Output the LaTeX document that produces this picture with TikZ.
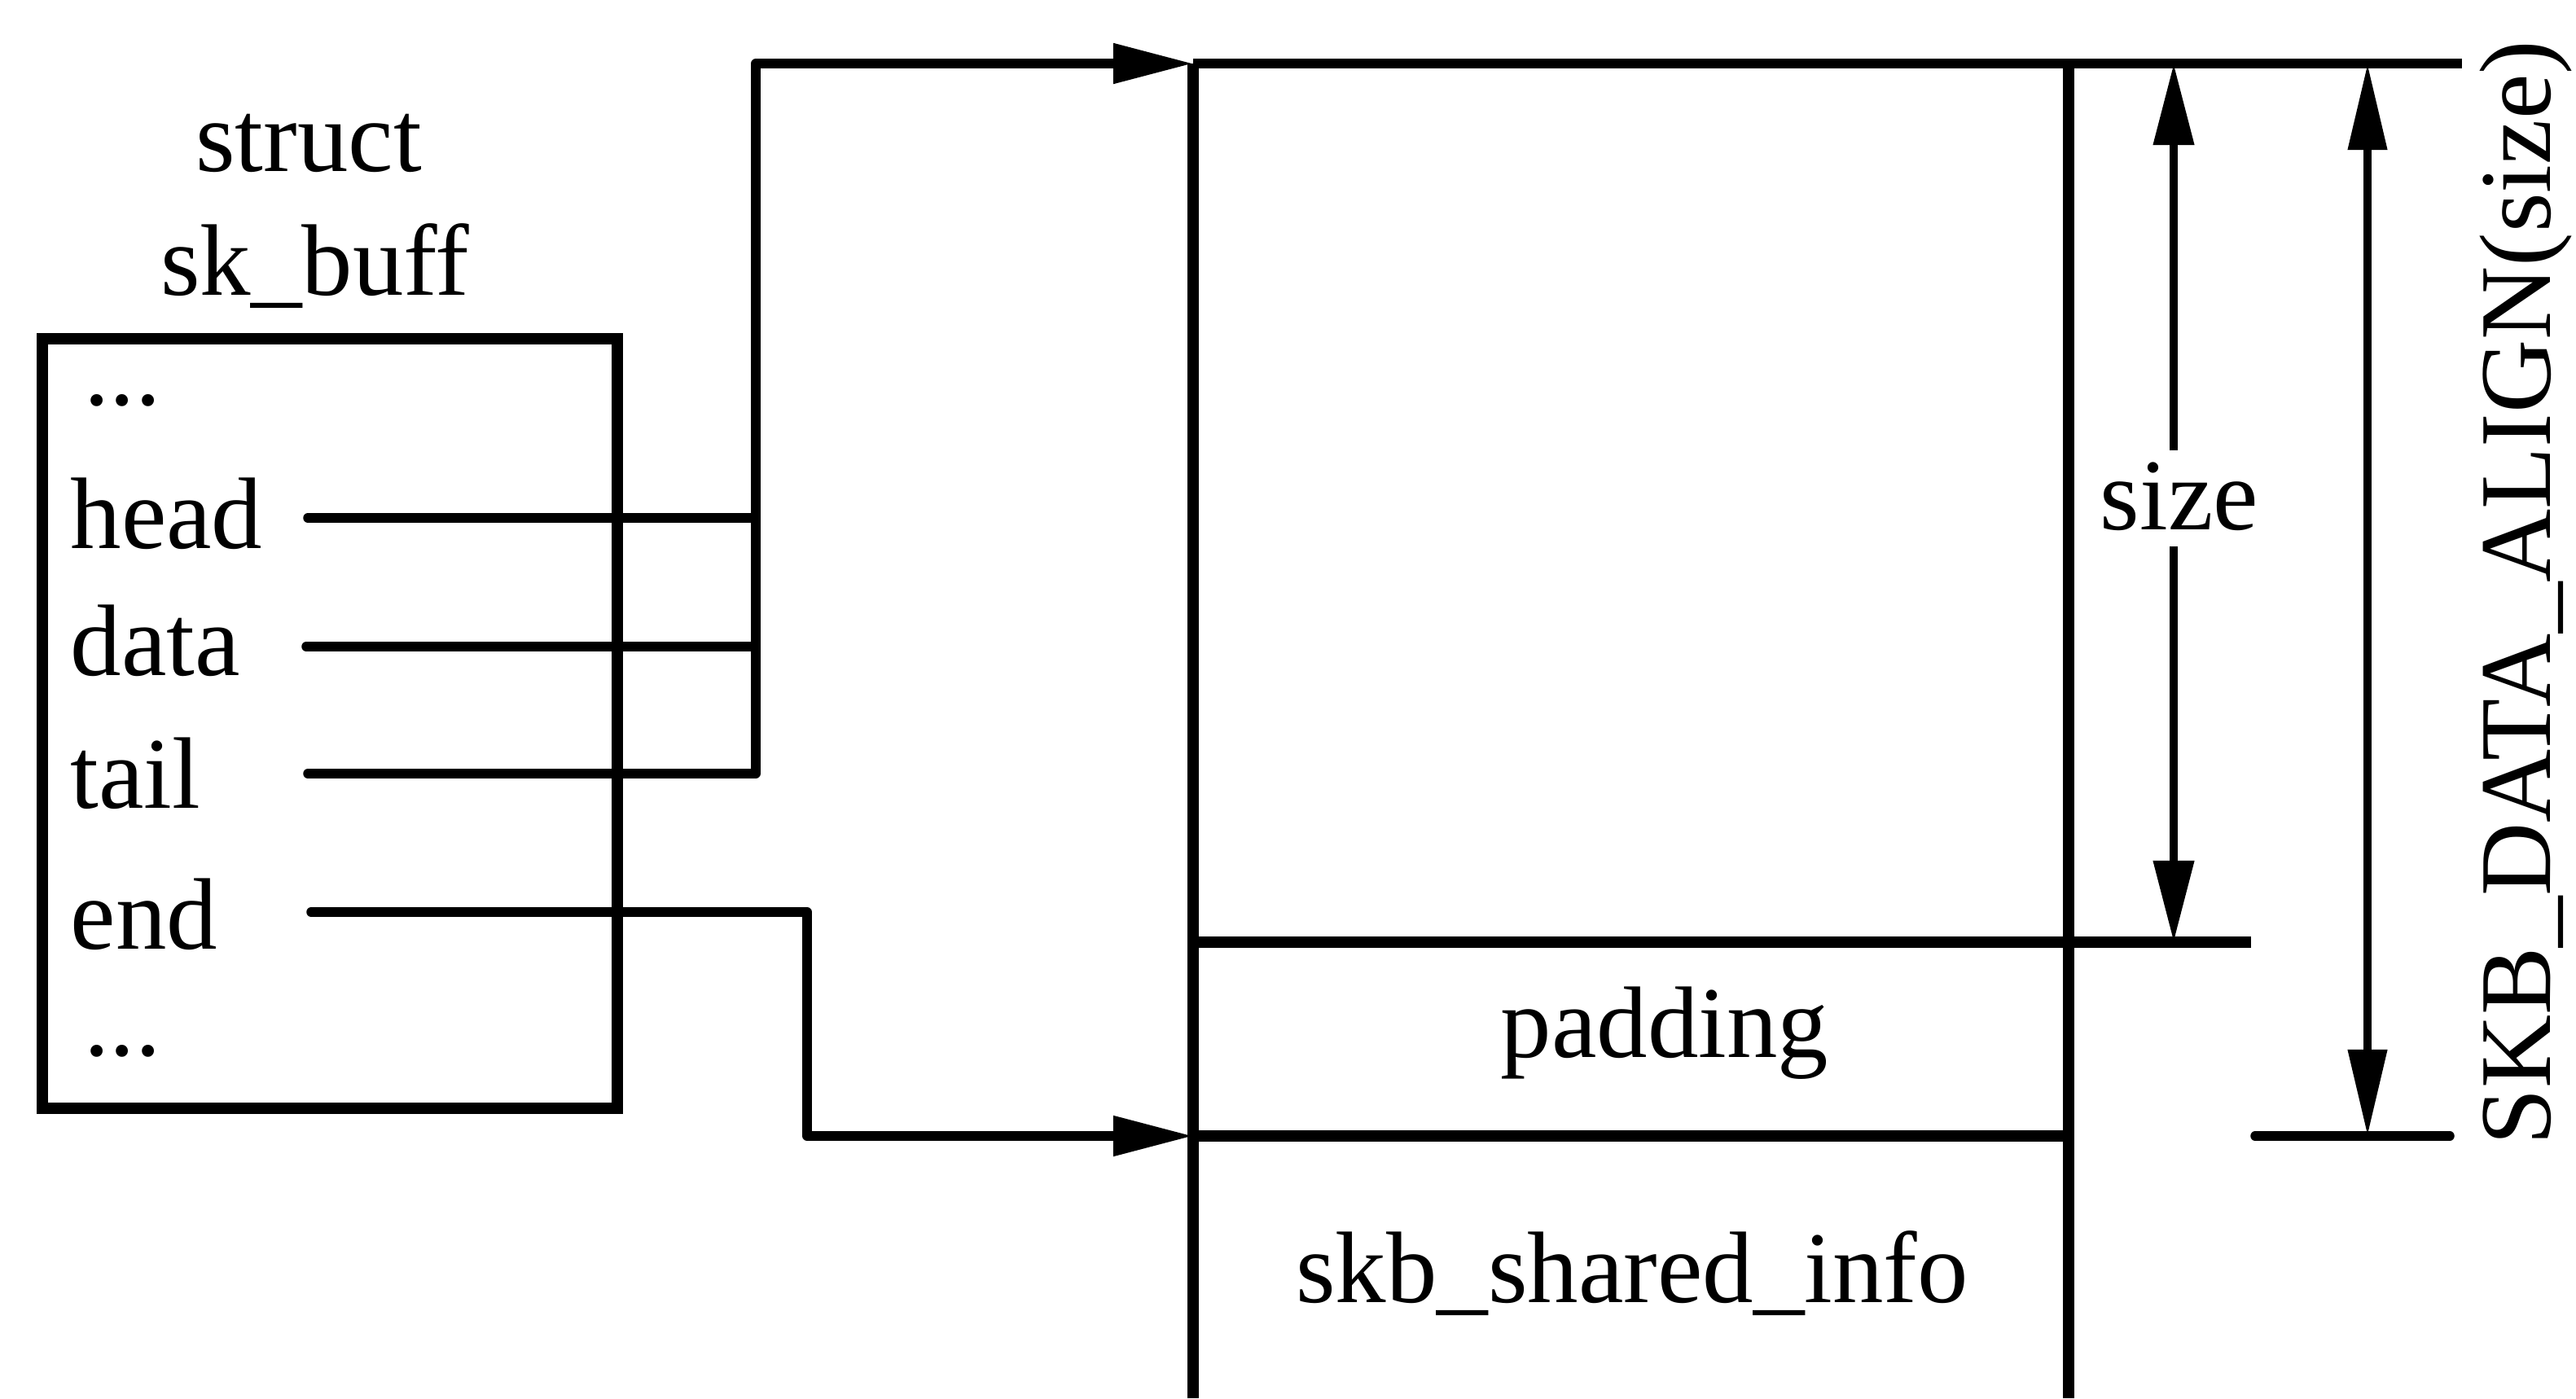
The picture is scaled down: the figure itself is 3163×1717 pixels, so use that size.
\documentclass[tikz,border=0pt]{standalone}
\usepackage{fontspec}
\setmainfont{Liberation Serif}
\usetikzlibrary{arrows.meta}
\begin{document}
\begin{tikzpicture}[x=0.01cm,y=-0.01cm,
  thickline/.style={line width=0.14cm},
  conn/.style={line width=0.115cm, line cap=round, line join=round},
  dimline/.style={line width=0.105cm},
  tipend/.style={-{Triangle[length=0.98cm,width=0.47cm]}},
  lbl/.style={font=\fontsize{35.5}{42}\selectfont, inner sep=0pt},
]
\useasboundingbox (0,0) rectangle (3163,1717);

% struct sk_buff box
\node[draw, thickline, minimum width=7.06cm, minimum height=9.45cm, outer sep=0pt, inner sep=0pt] (skb) at (405,888.5) {};
\node[lbl, anchor=base] (structlbl) at (379,210) {struct};
\node[lbl, anchor=base] (skbname) at (387,362) {sk\_buff};
\node[lbl, anchor=base west] (dotsa) at (103,497) {...};
\node[lbl, anchor=base west] (head) at (86,673) {head};
\node[lbl, anchor=base west] (data) at (86,829) {data};
\node[lbl, anchor=base west] (tail) at (86,992) {tail};
\node[lbl, anchor=base west] (end) at (86,1165) {end};
\node[lbl, anchor=base west] (dotsb) at (103,1296) {...};

% coordinates
\coordinate (hs) at (378,636);
\coordinate (ds) at (376,794);
\coordinate (ts) at (378,950);
\coordinate (es) at (382,1120);
\coordinate (hj) at (928,636);
\coordinate (dj) at (928,794);
\coordinate (tj) at (928,950);
\coordinate (vtop) at (928,78);
\coordinate (ebend) at (991,1120);
\coordinate (ebend2) at (991,1395);

\coordinate (bufTL) at (1465,78);
\coordinate (bufBL) at (1465,1717);
\coordinate (bufTR) at (2540,78);
\coordinate (bufBR) at (2540,1717);
\coordinate (topend) at (3023,78);
\coordinate (sizeL) at (1465,1157);
\coordinate (sizeR) at (2764,1157);
\coordinate (padL) at (1465,1395);
\coordinate (padR) at (2540,1395);
\coordinate (tickL) at (2769,1395);
\coordinate (tickR) at (3008,1395);

% connectors
\draw[conn] (hs) -- (hj);
\draw[conn] (ds) -- (dj);
\draw[conn, tipend] (ts) -- (tj) -- (vtop) -- (bufTL);
\draw[conn, tipend] (es) -- (ebend) -- (ebend2) -- (padL);

% buffer
\draw[thickline] (bufBL) -- (bufTL);
\draw[line width=0.125cm] (bufTL) -- (topend);
\draw[thickline] (bufTR) -- (bufBR);
\draw[thickline] (sizeL) -- (sizeR);
\draw[thickline] (padL) -- (padR);
\draw[conn] (tickL) -- (tickR);

\node[lbl, anchor=base] (padding) at (2044,1298) {padding};
\node[lbl, anchor=base] (shinfo) at (2004,1599) {skb\_shared\_info};

% size dimension
\node[lbl, anchor=base] (sizelbl) at (2676,650) {size};
\coordinate (szTop) at (2669,78);
\coordinate (szBot) at (2669,1157);
\coordinate (szGapT) at (2669,553);
\coordinate (szGapB) at (2669,671);
\draw[dimline, -{Triangle[length=1cm,width=0.48cm]}] (szGapT) -- (szTop);
\draw[dimline, -{Triangle[length=1cm,width=0.48cm]}] (szGapB) -- (szBot);

% SKB_DATA_ALIGN dimension
\coordinate (alTop) at (2907,78);
\coordinate (alBot) at (2907,1395);
\draw[dimline, {Triangle[length=1.06cm,width=0.46cm]}-{Triangle[length=1.06cm,width=0.46cm]}] (alTop) -- (alBot);
\node[lbl, rotate=90, anchor=base] (alignlbl) at (3131,728) {SKB\_DATA\_ALIGN(size)};
\end{tikzpicture}
\end{document}
